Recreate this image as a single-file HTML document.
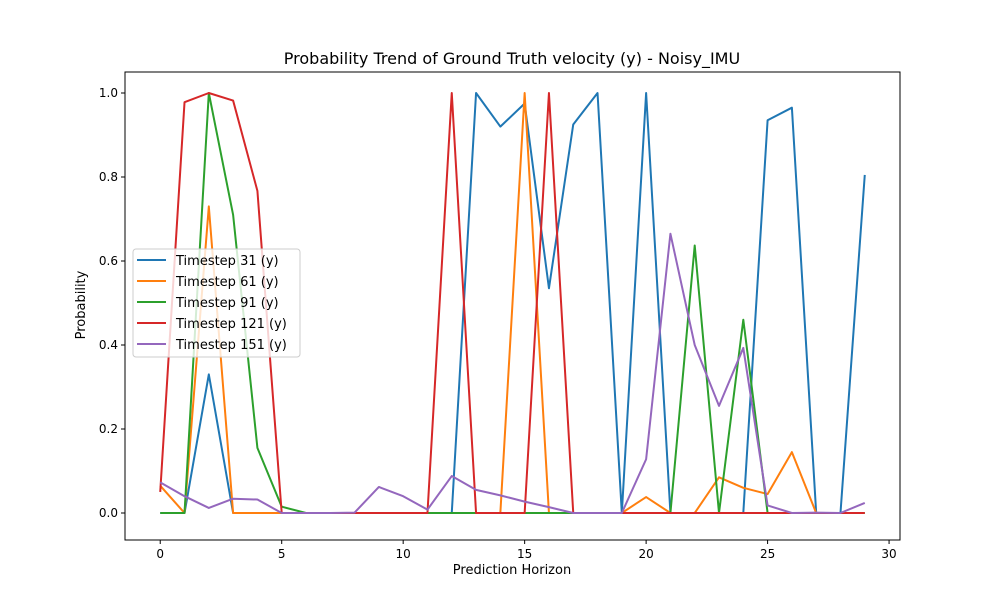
<!DOCTYPE html>
<html><head><meta charset="utf-8"><style>
body{margin:0;background:#fff;font-family:"Liberation Sans","DejaVu Sans",sans-serif}
svg text{font-family:"DejaVu Sans","Liberation Sans",sans-serif}
</style></head><body>
<svg id="chart" width="1000" height="600" xmlns="http://www.w3.org/2000/svg">
<rect width="1000" height="600" fill="#fff"/>
<g id="plot"></g>
<text x="512" y="64" text-anchor="middle" font-size="16">Probability Trend of Ground Truth velocity (y) - Noisy_IMU</text>
<text x="512" y="574" text-anchor="middle" font-size="13">Prediction Horizon</text>
<text x="85" y="305" text-anchor="middle" font-size="13" transform="rotate(-90 85 305)">Probability</text>
</svg>
<script>
const xTicks=[0,5,10,15,20,25,30];
const yTicks=[0,0.2,0.4,0.6,0.8,1.0];
const yTickLabels=["0.0","0.2","0.4","0.6","0.8","1.0"];
const seriesNames=["Timestep 31 (y)","Timestep 61 (y)","Timestep 91 (y)","Timestep 121 (y)","Timestep 151 (y)"];
const colors=["#1f77b4","#ff7f0e","#2ca02c","#d62728","#9467bd"];
const s31=[0,0,0.33,0,0,0,0,0,0,0,0,0,0,1.0,0.92,0.975,0.535,0.925,1.0,0,1.0,0,0,0,0,0.935,0.965,0,0,0.805];
const s61=[0.065,0,0.73,0,0,0,0,0,0,0,0,0,0,0,0,1.0,0,0,0,0,0.038,0,0,0.085,0.06,0.045,0.145,0,0,0];
const s91=[0,0,1.0,0.71,0.155,0.015,0,0,0,0,0,0,0,0,0,0,0,0,0,0,0,0,0.637,0,0.46,0,0,0,0,0];
const s121=[0.05,0.978,1.0,0.982,0.767,0,0,0,0,0,0,0,1.0,0,0,0,1.0,0,0,0,0,0,0,0,0,0,0,0,0,0];
const s151=[0.073,0.04,0.012,0.034,0.032,0,0,0,0.001,0.062,0.04,0.008,0.088,0.055,0.042,0.027,0.014,0,0,0,0.128,0.665,0.4,0.255,0.393,0.018,0,0.001,0,0.024];
const allSeries=[s31,s61,s91,s121,s151];
const L=125,R=900,T=72,B=540;
const xmin=-1.45,xmax=30.45,ymin=-0.0643,ymax=1.05;
const X=v=>L+(v-xmin)/(xmax-xmin)*(R-L);
const Y=v=>B-(v-ymin)/(ymax-ymin)*(B-T);
const NS="http://www.w3.org/2000/svg";
const g=document.getElementById('plot');
function mk(t,a,p){const e=document.createElementNS(NS,t);for(const k in a)e.setAttribute(k,a[k]);(p||g).appendChild(e);return e;}
allSeries.forEach((s,i)=>{
 const pl=mk('polyline',{points:s.map((v,j)=>X(j)+','+Y(v)).join(' '),fill:'none',stroke:colors[i],'stroke-width':2,'stroke-linejoin':'round'});
 
 
});
const fr=mk('rect',{x:L,y:T,width:R-L,height:B-T,fill:'none',stroke:'#000','stroke-width':1});


xTicks.forEach(t=>{
 mk('line',{x1:X(t),x2:X(t),y1:B,y2:B+4,stroke:'#000'});
 const tx=mk('text',{x:X(t),y:B+18,'text-anchor':'middle','font-size':12});tx.textContent=t;
 
 
});
yTicks.forEach((t,i)=>{
 mk('line',{x1:L-4,x2:L,y1:Y(t),y2:Y(t),stroke:'#000'});
 const tx=mk('text',{x:L-7,y:Y(t)+4,'text-anchor':'end','font-size':12});tx.textContent=yTickLabels[i];
 
 
});
const lg=mk('g',{});


mk('rect',{x:133,y:249,width:167,height:108,rx:3,fill:'#fff','fill-opacity':0.8,stroke:'#ccc'},lg);
seriesNames.forEach((n,i)=>{
 const y=260+i*21;
 mk('line',{x1:137,x2:166,y1:y,y2:y,stroke:colors[i],'stroke-width':2},lg);
 const tx=mk('text',{x:176,y:y+5,'font-size':13},lg);tx.textContent=n;
 
 
});
</script>
</body></html>
